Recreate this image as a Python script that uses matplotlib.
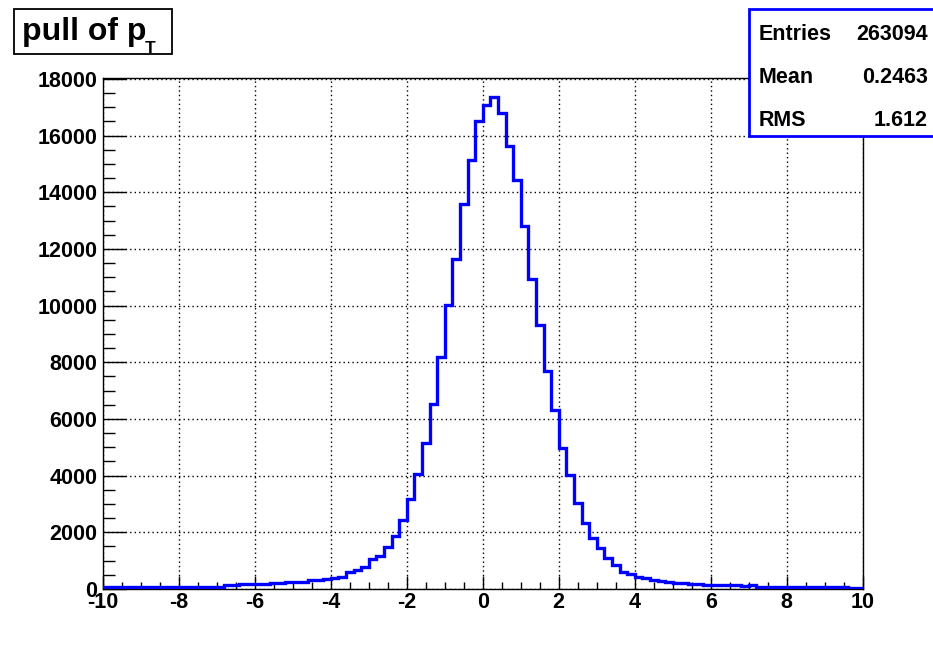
import matplotlib
matplotlib.use('Agg')
import matplotlib.pyplot as plt
from matplotlib.patches import Rectangle
from matplotlib.ticker import MultipleLocator
import numpy as np

plt.rcParams['font.family'] = ['Liberation Sans', 'DejaVu Sans']
plt.rcParams['font.weight'] = 'bold'
plt.rcParams['axes.unicode_minus'] = False

# pull distribution, 100 bins of 0.2 between -10 and 10
bin_lo = -10.0
bin_hi = 10.0
counts = [
    # -10 .. -6.8
    60, 60, 62, 62, 64, 64, 66, 66, 68, 68, 70, 70, 72, 72, 74, 76,
    # -6.8 .. -5.8
    150, 155, 160, 165, 170,
    # -5.8 .. -4.2
    190, 195, 200, 235, 240, 245, 300, 310,
    # -4.2 .. -2.0
    365, 380, 440, 590, 670, 760, 1050, 1150, 1490, 1860, 2450,
    # -2.0 .. 0.0
    3165, 4050, 5150, 6537, 8175, 10030, 11635, 13600, 15150, 16520,
    # 0.0 .. 2.0
    17085, 17377, 16790, 15620, 14420, 12800, 10950, 9310, 7680, 6300,
    # 2.0 .. 4.0
    4990, 4015, 3040, 2317, 1790, 1440, 1108, 840, 615, 524,
    # 4.0 .. 5.8
    440, 383, 323, 288, 243, 200, 195, 190, 185,
    # 5.8 .. 7.2
    150, 145, 140, 135, 130, 90, 140,
    # 7.2 .. 10
    80, 80, 75, 75, 70, 70, 70, 65, 65, 65, 60, 60, 40, 35,
]
stat_names = ['Entries', 'Mean', 'RMS']
stat_values = ['263094', '0.2463', '1.612']

edges = np.linspace(bin_lo, bin_hi, len(counts) + 1)

W, H = 933, 647
fig = plt.figure(figsize=(W / 100, H / 100), dpi=100)
ax = fig.add_axes([102.7 / W, 1 - 589.0 / H, 760.0 / W, 511.5 / H])

ax.stairs(counts, edges, color='#0000ff', linewidth=2.4, zorder=3)

ax.set_xlim(bin_lo, bin_hi)
ax.set_ylim(0, 18050)
ax.xaxis.set_major_locator(MultipleLocator(2))
ax.xaxis.set_minor_locator(MultipleLocator(0.5))
ax.yaxis.set_major_locator(MultipleLocator(2000))
ax.yaxis.set_minor_locator(MultipleLocator(500))
ax.grid(True, which='major', color='black', linestyle=(0, (1, 2.2)), linewidth=1.0)
ax.set_axisbelow(True)

ax.tick_params(axis='x', which='major', direction='in', length=9.5, width=1.0, pad=2,
               labelsize=15.5, top=False)
ax.tick_params(axis='x', which='minor', direction='in', length=5, width=1.0, top=False)
ax.tick_params(axis='y', which='major', direction='in', length=16.5, width=1.0, pad=4,
               labelsize=15.5, right=False)
ax.tick_params(axis='y', which='minor', direction='in', length=8.5, width=1.0, right=False)
for lab in ax.get_xticklabels() + ax.get_yticklabels():
    lab.set_fontweight('bold')
for sp in ax.spines.values():
    sp.set_linewidth(1.0)
    sp.set_color('black')

# title box
fig.add_artist(Rectangle((14 / W, 1 - 54 / H), 158 / W, 45 / H, transform=fig.transFigure,
                         facecolor='white', edgecolor='black', linewidth=1.3))
fig.text(22.5 / W, 1 - 40 / H, 'pull of p', fontsize=23, fontweight='bold',
         va='baseline', ha='left')
fig.text(145 / W, 1 - 53 / H, 'T', fontsize=12.5, fontweight='bold', va='baseline', ha='left')

# statistics box
fig.add_artist(Rectangle((749 / W, 1 - 136 / H), 200 / W, 127 / H, transform=fig.transFigure,
                         facecolor='white', edgecolor='#0000ff', linewidth=2.0))
for k, (name, val) in enumerate(zip(stat_names, stat_values)):
    y = 1 - (34 + 43.5 * k) / H
    fig.text(759 / W, y, name, fontsize=15.5, fontweight='bold', va='center', ha='left')
    fig.text(928 / W, y, val, fontsize=15.5, fontweight='bold', va='center', ha='right')

plt.savefig('out.png', dpi=100)
